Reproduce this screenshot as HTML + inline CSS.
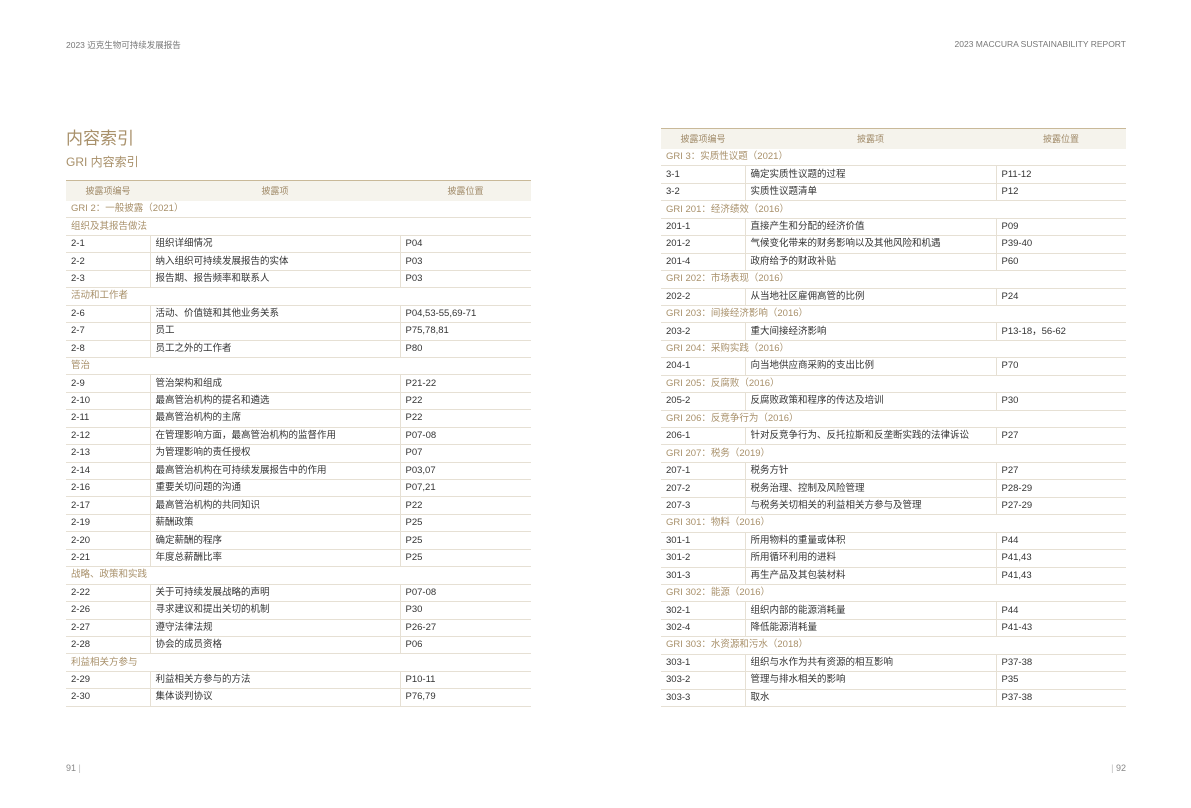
<!DOCTYPE html>
<html><head><meta charset="utf-8"><style>
*{margin:0;padding:0;box-sizing:border-box}
body{width:1191px;height:808px;background:#fff;position:relative;overflow:hidden;font-family:"Liberation Sans","Noto Sans CJK SC",sans-serif;color:#333}
.hd{position:absolute;top:39px;font-size:8.5px;color:#777}
table{position:absolute;border-collapse:collapse;table-layout:fixed;font-size:9.5px}
th{height:20px;background:#f5f3ec;border-top:1.5px solid #c9b999;font-weight:normal;color:#a08a68;font-size:9px}
td{height:17.45px;border-bottom:1px solid #e6e0d4;padding-left:5px;white-space:nowrap;line-height:16px}
td+td{border-left:1px solid #e6e0d4}
tr.s td{color:#a8906a}
.t1{position:absolute;left:66px;top:124px;font-size:17px;color:#a8906a}
.t2{position:absolute;left:66px;top:153px;font-size:12px;color:#a8906a}
.pn{position:absolute;top:763px;font-size:9px;color:#888}
</style></head><body>
<div class="hd" style="left:66px">2023 迈克生物可持续发展报告</div>
<div class="hd" style="right:65px">2023 MACCURA SUSTAINABILITY REPORT</div>
<div class="t1">内容索引</div>
<div class="t2">GRI 内容索引</div>
<table style="left:66px;top:180px;width:465px">
<colgroup><col style="width:84px"><col style="width:250px"><col style="width:131px"></colgroup>
<tr><th>披露项编号</th><th>披露项</th><th>披露位置</th></tr>
<tr class="s"><td colspan="3">GRI 2：一般披露（2021）</td></tr>
<tr class="s"><td colspan="3">组织及其报告做法</td></tr>
<tr><td>2-1</td><td>组织详细情况</td><td>P04</td></tr>
<tr><td>2-2</td><td>纳入组织可持续发展报告的实体</td><td>P03</td></tr>
<tr><td>2-3</td><td>报告期、报告频率和联系人</td><td>P03</td></tr>
<tr class="s"><td colspan="3">活动和工作者</td></tr>
<tr><td>2-6</td><td>活动、价值链和其他业务关系</td><td>P04,53-55,69-71</td></tr>
<tr><td>2-7</td><td>员工</td><td>P75,78,81</td></tr>
<tr><td>2-8</td><td>员工之外的工作者</td><td>P80</td></tr>
<tr class="s"><td colspan="3">管治</td></tr>
<tr><td>2-9</td><td>管治架构和组成</td><td>P21-22</td></tr>
<tr><td>2-10</td><td>最高管治机构的提名和遴选</td><td>P22</td></tr>
<tr><td>2-11</td><td>最高管治机构的主席</td><td>P22</td></tr>
<tr><td>2-12</td><td>在管理影响方面，最高管治机构的监督作用</td><td>P07-08</td></tr>
<tr><td>2-13</td><td>为管理影响的责任授权</td><td>P07</td></tr>
<tr><td>2-14</td><td>最高管治机构在可持续发展报告中的作用</td><td>P03,07</td></tr>
<tr><td>2-16</td><td>重要关切问题的沟通</td><td>P07,21</td></tr>
<tr><td>2-17</td><td>最高管治机构的共同知识</td><td>P22</td></tr>
<tr><td>2-19</td><td>薪酬政策</td><td>P25</td></tr>
<tr><td>2-20</td><td>确定薪酬的程序</td><td>P25</td></tr>
<tr><td>2-21</td><td>年度总薪酬比率</td><td>P25</td></tr>
<tr class="s"><td colspan="3">战略、政策和实践</td></tr>
<tr><td>2-22</td><td>关于可持续发展战略的声明</td><td>P07-08</td></tr>
<tr><td>2-26</td><td>寻求建议和提出关切的机制</td><td>P30</td></tr>
<tr><td>2-27</td><td>遵守法律法规</td><td>P26-27</td></tr>
<tr><td>2-28</td><td>协会的成员资格</td><td>P06</td></tr>
<tr class="s"><td colspan="3">利益相关方参与</td></tr>
<tr><td>2-29</td><td>利益相关方参与的方法</td><td>P10-11</td></tr>
<tr><td>2-30</td><td>集体谈判协议</td><td>P76,79</td></tr>
</table>
<table style="left:661px;top:128px;width:465px">
<colgroup><col style="width:84px"><col style="width:251px"><col style="width:130px"></colgroup>
<tr><th>披露项编号</th><th>披露项</th><th>披露位置</th></tr>
<tr class="s"><td colspan="3">GRI 3：实质性议题（2021）</td></tr>
<tr><td>3-1</td><td>确定实质性议题的过程</td><td>P11-12</td></tr>
<tr><td>3-2</td><td>实质性议题清单</td><td>P12</td></tr>
<tr class="s"><td colspan="3">GRI 201：经济绩效（2016）</td></tr>
<tr><td>201-1</td><td>直接产生和分配的经济价值</td><td>P09</td></tr>
<tr><td>201-2</td><td>气候变化带来的财务影响以及其他风险和机遇</td><td>P39-40</td></tr>
<tr><td>201-4</td><td>政府给予的财政补贴</td><td>P60</td></tr>
<tr class="s"><td colspan="3">GRI 202：市场表现（2016）</td></tr>
<tr><td>202-2</td><td>从当地社区雇佣高管的比例</td><td>P24</td></tr>
<tr class="s"><td colspan="3">GRI 203：间接经济影响（2016）</td></tr>
<tr><td>203-2</td><td>重大间接经济影响</td><td>P13-18，56-62</td></tr>
<tr class="s"><td colspan="3">GRI 204：采购实践（2016）</td></tr>
<tr><td>204-1</td><td>向当地供应商采购的支出比例</td><td>P70</td></tr>
<tr class="s"><td colspan="3">GRI 205：反腐败（2016）</td></tr>
<tr><td>205-2</td><td>反腐败政策和程序的传达及培训</td><td>P30</td></tr>
<tr class="s"><td colspan="3">GRI 206：反竞争行为（2016）</td></tr>
<tr><td>206-1</td><td>针对反竞争行为、反托拉斯和反垄断实践的法律诉讼</td><td>P27</td></tr>
<tr class="s"><td colspan="3">GRI 207：税务（2019）</td></tr>
<tr><td>207-1</td><td>税务方针</td><td>P27</td></tr>
<tr><td>207-2</td><td>税务治理、控制及风险管理</td><td>P28-29</td></tr>
<tr><td>207-3</td><td>与税务关切相关的利益相关方参与及管理</td><td>P27-29</td></tr>
<tr class="s"><td colspan="3">GRI 301：物料（2016）</td></tr>
<tr><td>301-1</td><td>所用物料的重量或体积</td><td>P44</td></tr>
<tr><td>301-2</td><td>所用循环利用的进料</td><td>P41,43</td></tr>
<tr><td>301-3</td><td>再生产品及其包装材料</td><td>P41,43</td></tr>
<tr class="s"><td colspan="3">GRI 302：能源（2016）</td></tr>
<tr><td>302-1</td><td>组织内部的能源消耗量</td><td>P44</td></tr>
<tr><td>302-4</td><td>降低能源消耗量</td><td>P41-43</td></tr>
<tr class="s"><td colspan="3">GRI 303：水资源和污水（2018）</td></tr>
<tr><td>303-1</td><td>组织与水作为共有资源的相互影响</td><td>P37-38</td></tr>
<tr><td>303-2</td><td>管理与排水相关的影响</td><td>P35</td></tr>
<tr><td>303-3</td><td>取水</td><td>P37-38</td></tr>
</table>
<div class="pn" style="left:66px">91 <span style="color:#bbb">|</span></div>
<div class="pn" style="right:65px"><span style="color:#bbb">|</span> 92</div>
</body></html>
